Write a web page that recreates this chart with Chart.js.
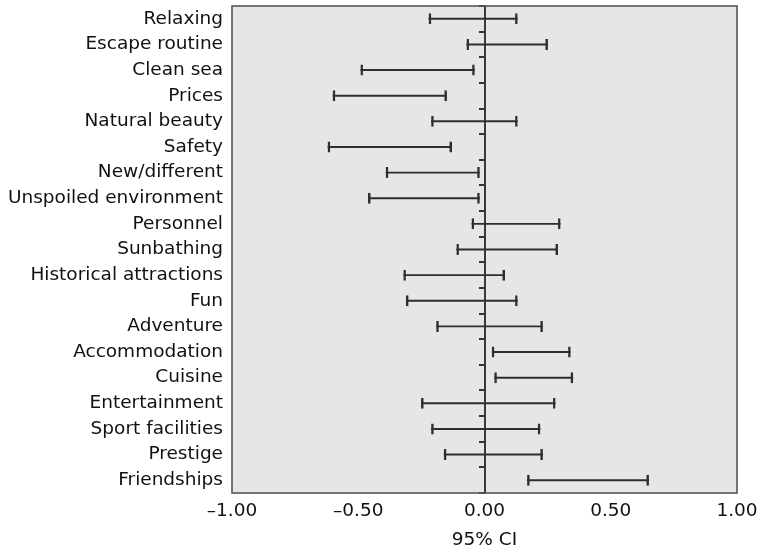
<!DOCTYPE html>
<html>
<head>
<meta charset="utf-8">
<title>95% CI by attribute</title>
<script src="https://cdn.jsdelivr.net/npm/chart.js@4/dist/chart.umd.min.js"></script>
<style>
  html, body { margin: 0; padding: 0; background: #ffffff; }
  #wrap { width: 762px; height: 552px; }
</style>
</head>
<body>
<div id="wrap"><canvas id="ci" width="762" height="552"></canvas></div>
<script>
// Attributes, top to bottom
const categories = [
  'Relaxing', 'Escape routine', 'Clean sea', 'Prices', 'Natural beauty',
  'Safety', 'New/different', 'Unspoiled environment', 'Personnel',
  'Sunbathing', 'Historical attractions', 'Fun', 'Adventure',
  'Accommodation', 'Cuisine', 'Entertainment', 'Sport facilities',
  'Prestige', 'Friendships'
];

// Lower and upper bounds of the 95% confidence intervals
const ciLower = [
  -0.22, -0.07, -0.49, -0.60, -0.21,
  -0.62, -0.39, -0.46, -0.05,
  -0.11, -0.32, -0.31, -0.19,
   0.03,  0.04, -0.25, -0.21,
  -0.16,  0.17
];
const ciUpper = [
   0.13,  0.25, -0.04, -0.15,  0.13,
  -0.13, -0.02, -0.02,  0.30,
   0.29,  0.08,  0.13,  0.23,
   0.34,  0.35,  0.28,  0.22,
   0.23,  0.65
];

// Horizontal axis ticks
const xTickValues = [-1, -0.5, 0, 0.5, 1];
const xTickLabels = ['\u20131.00', '\u20130.50', '0.00', '0.50', '1.00'];
const xTitle = '95% CI';

const intervals = categories.map((_, i) => [ciLower[i], ciUpper[i]]);

const FONT = "'DejaVu Sans', 'Liberation Sans', Arial, sans-serif";
const FONT_SIZE = 18.5;
const INK = '#2e2e2e';

// Grey plotting panel with a frame around it
const panel = {
  id: 'panel',
  beforeDraw(chart) {
    const { ctx, chartArea: a } = chart;
    ctx.save();
    ctx.fillStyle = '#e6e6e6';
    ctx.fillRect(a.left, a.top, a.right - a.left, a.bottom - a.top);
    ctx.restore();
  },
  afterDraw(chart) {
    const { ctx, chartArea: a } = chart;
    ctx.save();
    ctx.strokeStyle = '#555555';
    ctx.lineWidth = 1.6;
    ctx.strokeRect(a.left, a.top, a.right - a.left, a.bottom - a.top);
    ctx.restore();
  }
};

new Chart(document.getElementById('ci'), {
  type: 'bar',
  data: {
    labels: categories,
    datasets: [
      {
        // whisker line
        data: intervals,
        grouped: false,
        barThickness: 1.3,
        backgroundColor: INK,
        borderWidth: 0,
        yAxisID: 'y'
      },
      {
        // end caps
        data: intervals,
        grouped: false,
        barThickness: 11,
        backgroundColor: 'rgba(0,0,0,0)',
        borderColor: INK,
        borderWidth: { left: 1.8, right: 1.8, top: 0, bottom: 0 },
        borderSkipped: false,
        yAxisID: 'y'
      }
    ]
  },
  options: {
    indexAxis: 'y',
    responsive: false,
    animation: false,
    events: [],
    layout: { padding: { top: 6, right: 25, left: 0, bottom: 0 } },
    plugins: {
      legend: { display: false },
      tooltip: { enabled: false }
    },
    scales: {
      x: {
        type: 'linear',
        position: 'bottom',
        min: -1,
        max: 1,
        afterBuildTicks(scale) {
          scale.ticks = xTickValues.map(v => ({ value: v }));
        },
        afterFit(scale) {
          scale.height = 59;
          scale.paddingLeft = 0;
          scale.paddingRight = 0;
        },
        grid: { display: false, drawTicks: false },
        border: { display: false },
        ticks: {
          padding: 7,
          color: '#111',
          font: { family: FONT, size: FONT_SIZE },
          maxRotation: 0,
          callback(value) {
            const i = xTickValues.indexOf(value);
            return i >= 0 ? xTickLabels[i] : '';
          }
        },
        title: {
          display: true,
          text: xTitle,
          color: '#111',
          font: { family: FONT, size: FONT_SIZE },
          padding: { top: 0, bottom: 1 }
        }
      },
      y: {
        type: 'category',
        position: 'left',
        offset: true,
        afterFit(scale) {
          scale.width = 232;
          scale.paddingTop = 0;
          scale.paddingBottom = 0;
        },
        grid: { display: false, drawTicks: false },
        border: { display: false },
        ticks: {
          padding: 9,
          color: '#111',
          autoSkip: false,
          font: { family: FONT, size: FONT_SIZE }
        }
      },
      // zero reference line with short marks between the rows
      y0: {
        axis: 'y',
        type: 'category',
        position: { x: 0 },
        offset: true,
        afterFit(scale) {
          scale.paddingTop = 0;
          scale.paddingBottom = 0;
        },
        grid: {
          offset: true,
          drawOnChartArea: false,
          drawTicks: true,
          tickLength: 5,
          lineWidth: 2,
          color: '#333333'
        },
        border: { display: true, color: '#3a3a3a', width: 2 },
        ticks: { display: false, autoSkip: false }
      }
    }
  },
  plugins: [panel]
});
</script>
</body>
</html>
